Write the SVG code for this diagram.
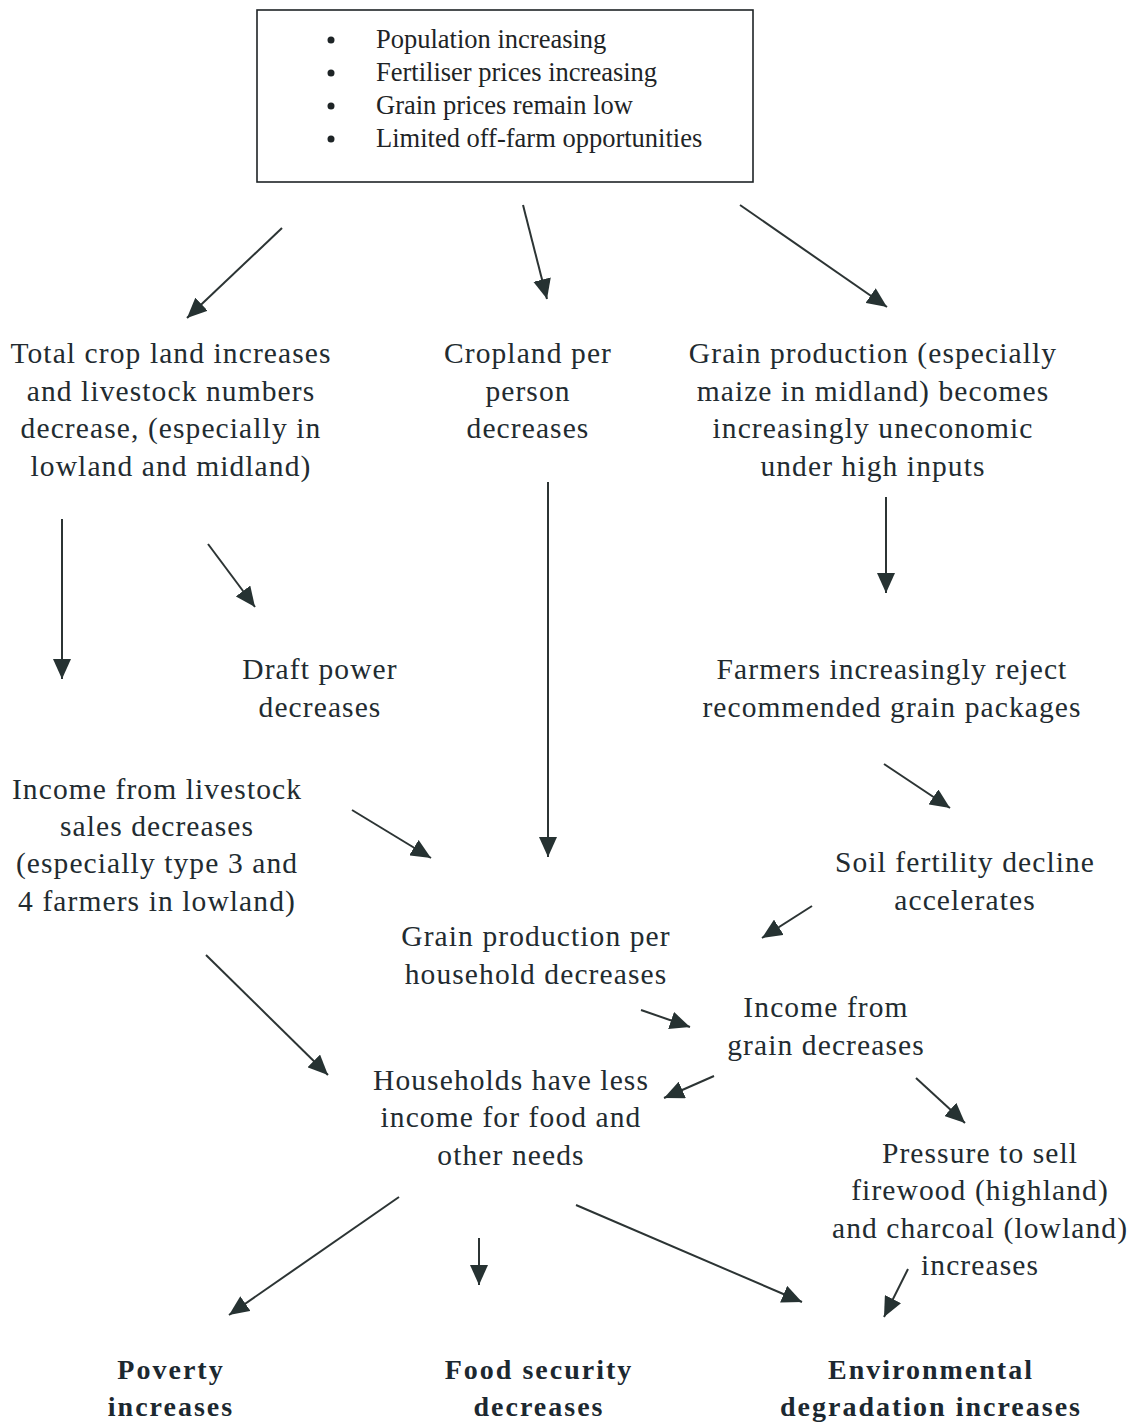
<svg xmlns="http://www.w3.org/2000/svg" width="1136" height="1425" viewBox="0 0 1136 1425">
  <defs>
    <marker id="arrow" viewBox="0 0 20 18" refX="20" refY="9" markerWidth="20" markerHeight="18" markerUnits="userSpaceOnUse" orient="auto">
      <path d="M0,0 L20,9 L0,18 z" fill="#263232"/>
    </marker>
    <style>
      .box { fill: #ffffff; stroke: #1e2426; stroke-width: 1.6; }
      .bullet { fill: #1e2426; }
      .boxtxt { font-family: "Liberation Serif", "Times New Roman", serif; font-size: 26.5px; fill: #1e2426; }
      .txt { font-family: "Liberation Serif", "Times New Roman", serif; font-size: 29.5px; letter-spacing: 1.1px; fill: #222b30; text-anchor: middle; }
      .bold { font-family: "Liberation Serif", "Times New Roman", serif; font-size: 28px; font-weight: bold; letter-spacing: 2px; fill: #1c2830; text-anchor: middle; }
      .conn line { stroke: #2c3434; stroke-width: 2; marker-end: url(#arrow); }
    </style>
  </defs>
  <rect width="1136" height="1425" fill="#ffffff"/>

  <!-- driving factors -->
  <g id="drivers">
    <rect class="box" x="257" y="10" width="496" height="172"/>
    <circle class="bullet" cx="331" cy="40" r="3.5"/>
    <circle class="bullet" cx="331" cy="73" r="3.5"/>
    <circle class="bullet" cx="331" cy="106" r="3.5"/>
    <circle class="bullet" cx="331" cy="139" r="3.5"/>
    <text class="boxtxt" x="376" y="48">Population increasing</text>
    <text class="boxtxt" x="376" y="81">Fertiliser prices increasing</text>
    <text class="boxtxt" x="376" y="114">Grain prices remain low</text>
    <text class="boxtxt" x="376" y="147">Limited off-farm opportunities</text>
  </g>

  <g id="cropland-livestock">
    <text class="txt" x="171" y="363">Total crop land increases</text>
    <text class="txt" x="171" y="401">and livestock numbers</text>
    <text class="txt" x="171" y="438">decrease, (especially in</text>
    <text class="txt" x="171" y="476">lowland and midland)</text>
  </g>

  <g id="cropland-per-person">
    <text class="txt" x="528" y="363">Cropland per</text>
    <text class="txt" x="528" y="401">person</text>
    <text class="txt" x="528" y="438">decreases</text>
  </g>

  <g id="grain-uneconomic">
    <text class="txt" x="873" y="363">Grain production (especially</text>
    <text class="txt" x="873" y="401">maize in midland) becomes</text>
    <text class="txt" x="873" y="438">increasingly uneconomic</text>
    <text class="txt" x="873" y="476">under high inputs</text>
  </g>

  <g id="draft-power">
    <text class="txt" x="320" y="679">Draft power</text>
    <text class="txt" x="320" y="717">decreases</text>
  </g>

  <g id="reject-packages">
    <text class="txt" x="892" y="679">Farmers increasingly reject</text>
    <text class="txt" x="892" y="717">recommended grain packages</text>
  </g>

  <g id="livestock-income">
    <text class="txt" x="157" y="799">Income from livestock</text>
    <text class="txt" x="157" y="836">sales decreases</text>
    <text class="txt" x="157" y="873">(especially type 3 and</text>
    <text class="txt" x="157" y="911">4 farmers in lowland)</text>
  </g>

  <g id="soil-fertility">
    <text class="txt" x="965" y="872">Soil fertility decline</text>
    <text class="txt" x="965" y="910">accelerates</text>
  </g>

  <g id="grain-per-household">
    <text class="txt" x="536" y="946">Grain production per</text>
    <text class="txt" x="536" y="984">household decreases</text>
  </g>

  <g id="grain-income">
    <text class="txt" x="826" y="1017">Income from</text>
    <text class="txt" x="826" y="1055">grain decreases</text>
  </g>

  <g id="household-income">
    <text class="txt" x="511" y="1090">Households have less</text>
    <text class="txt" x="511" y="1127">income for food and</text>
    <text class="txt" x="511" y="1165">other needs</text>
  </g>

  <g id="firewood-charcoal">
    <text class="txt" x="980" y="1163">Pressure to sell</text>
    <text class="txt" x="980" y="1200">firewood (highland)</text>
    <text class="txt" x="980" y="1238">and charcoal (lowland)</text>
    <text class="txt" x="980" y="1275">increases</text>
  </g>

  <g id="poverty">
    <text class="bold" x="171" y="1379">Poverty</text>
    <text class="bold" x="171" y="1416">increases</text>
  </g>

  <g id="food-security">
    <text class="bold" x="539" y="1379">Food security</text>
    <text class="bold" x="539" y="1416">decreases</text>
  </g>

  <g id="environment">
    <text class="bold" x="931" y="1379">Environmental</text>
    <text class="bold" x="931" y="1416">degradation increases</text>
  </g>

  <!-- connectors -->
  <g id="connectors" class="conn">
    <line x1="282" y1="228" x2="187" y2="318"/>
    <line x1="523" y1="205" x2="547" y2="299"/>
    <line x1="740" y1="205" x2="887" y2="307"/>
    <line x1="62" y1="519" x2="62" y2="679"/>
    <line x1="208" y1="544" x2="255" y2="607"/>
    <line x1="548" y1="482" x2="548" y2="857"/>
    <line x1="886" y1="497" x2="886" y2="593"/>
    <line x1="884" y1="764" x2="950" y2="808"/>
    <line x1="352" y1="810" x2="431" y2="858"/>
    <line x1="812" y1="906" x2="762" y2="938"/>
    <line x1="641" y1="1010" x2="690" y2="1027"/>
    <line x1="714" y1="1076" x2="664" y2="1098"/>
    <line x1="916" y1="1078" x2="965" y2="1123"/>
    <line x1="206" y1="955" x2="328" y2="1075"/>
    <line x1="399" y1="1197" x2="229" y2="1315"/>
    <line x1="479" y1="1238" x2="479" y2="1285"/>
    <line x1="576" y1="1205" x2="802" y2="1302"/>
    <line x1="908" y1="1269" x2="884" y2="1317"/>
  </g>
</svg>
